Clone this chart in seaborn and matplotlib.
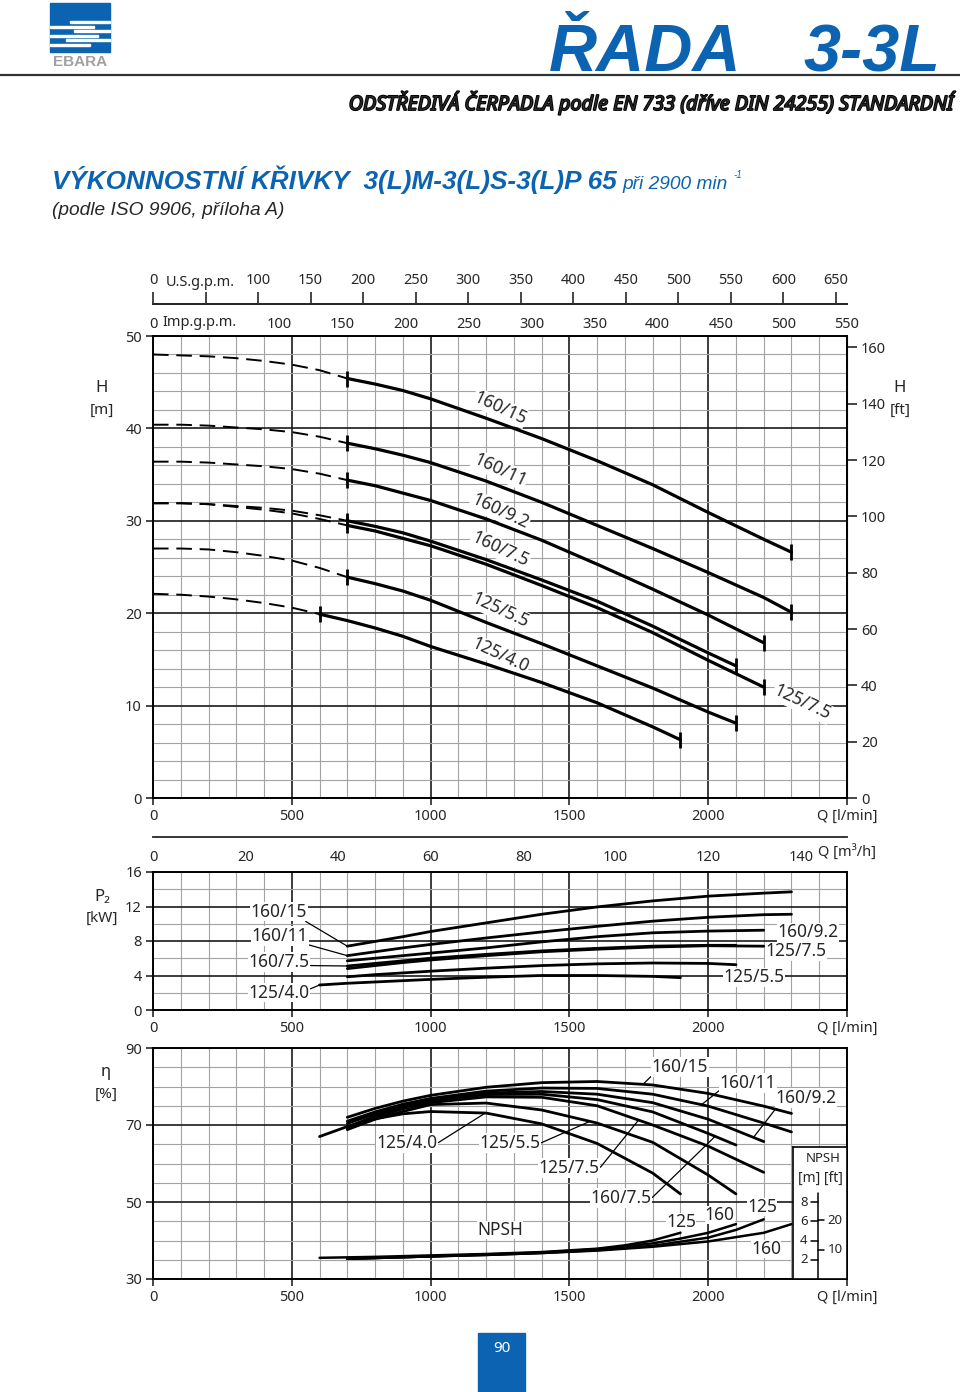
import numpy as np
import seaborn as sns
import matplotlib.pyplot as plt
import matplotlib.patheffects as pe
from matplotlib.patches import Rectangle

W, H = 960, 1392
BLUE = "#0b63b1"

# ---- values read from the sheet (Q in l/min) ----
models = ["160/15", "160/11", "160/9.2", "160/7.5", "125/7.5", "125/5.5", "125/4.0"]

# head [m], dashed part left of the allowed range
q_dash = [0, 100, 200, 300, 400, 500, 600, 700]
h_dash = {
    "160/15": [48.0, 47.9, 47.8, 47.6, 47.3, 46.9, 46.3, 45.4],
    "160/11": [40.4, 40.4, 40.3, 40.1, 39.9, 39.6, 39.1, 38.4],
    "160/9.2": [36.4, 36.4, 36.3, 36.1, 35.9, 35.6, 35.1, 34.4],
    "160/7.5": [31.9, 31.9, 31.8, 31.6, 31.4, 31.1, 30.6, 30.0],
    "125/7.5": [31.9, 31.9, 31.8, 31.5, 31.2, 30.8, 30.2, 29.5],
    "125/5.5": [27.0, 27.0, 26.9, 26.6, 26.2, 25.7, 24.9, 23.9],
    "125/4.0": [22.1, 22.0, 21.8, 21.5, 21.1, 20.6, 19.9],
}

# allowed range: flow points shared by head, power and efficiency
q_run = {
    "160/15": [700, 800, 900, 1000, 1200, 1400, 1600, 1800, 2000, 2200, 2300],
    "160/11": [700, 800, 900, 1000, 1200, 1400, 1600, 1800, 2000, 2200, 2300],
    "160/9.2": [700, 800, 900, 1000, 1200, 1400, 1600, 1800, 2000, 2200],
    "160/7.5": [700, 800, 900, 1000, 1200, 1400, 1600, 1800, 2000, 2100],
    "125/7.5": [700, 800, 900, 1000, 1200, 1400, 1600, 1800, 2000, 2200],
    "125/5.5": [700, 800, 900, 1000, 1200, 1400, 1600, 1800, 2000, 2100],
    "125/4.0": [600, 700, 800, 900, 1000, 1200, 1400, 1600, 1800, 1900],
}
h_run = {
    "160/15": [45.4, 44.8, 44.1, 43.2, 41.1, 38.9, 36.5, 33.9, 30.9, 28.0, 26.6],
    "160/11": [38.4, 37.8, 37.1, 36.3, 34.3, 32.0, 29.5, 27.0, 24.4, 21.7, 20.1],
    "160/9.2": [34.4, 33.8, 33.0, 32.2, 30.2, 27.9, 25.3, 22.6, 19.8, 16.8],
    "160/7.5": [30.0, 29.4, 28.7, 27.8, 25.8, 23.6, 21.3, 18.6, 15.7, 14.3],
    "125/7.5": [29.5, 28.9, 28.1, 27.3, 25.3, 23.0, 20.6, 17.9, 14.9, 12.0],
    "125/5.5": [23.9, 23.2, 22.4, 21.4, 19.0, 16.7, 14.3, 11.9, 9.3, 8.1],
    "125/4.0": [19.9, 19.2, 18.4, 17.5, 16.4, 14.5, 12.5, 10.3, 7.7, 6.3],
}
p2_run = {
    "160/15": [7.4, 7.95, 8.5, 9.1, 10.1, 11.1, 11.95, 12.65, 13.2, 13.55, 13.7],
    "160/11": [6.3, 6.75, 7.2, 7.6, 8.35, 9.05, 9.7, 10.3, 10.75, 11.05, 11.1],
    "160/9.2": [5.7, 6.0, 6.3, 6.6, 7.2, 7.9, 8.5, 8.95, 9.15, 9.25],
    "160/7.5": [5.1, 5.4, 5.7, 6.0, 6.45, 6.85, 7.15, 7.4, 7.5, 7.5],
    "125/7.5": [4.8, 5.15, 5.5, 5.8, 6.3, 6.75, 7.05, 7.3, 7.45, 7.4],
    "125/5.5": [3.85, 4.1, 4.3, 4.5, 4.85, 5.15, 5.35, 5.45, 5.4, 5.25],
    "125/4.0": [2.9, 3.1, 3.25, 3.4, 3.55, 3.8, 4.0, 4.0, 3.9, 3.75],
}
eta_run = {
    "160/15": [72.0, 74.3, 76.2, 77.7, 79.8, 81.0, 81.3, 80.4, 78.2, 74.9, 73.0],
    "160/11": [71.0, 73.4, 75.4, 76.9, 78.8, 79.6, 79.5, 78.0, 74.9, 70.5, 68.2],
    "160/9.2": [70.4, 72.9, 75.0, 76.6, 78.3, 78.7, 78.0, 75.8, 71.5, 65.7],
    "160/7.5": [69.5, 72.3, 74.6, 76.3, 77.9, 78.0, 76.6, 73.4, 67.8, 64.8],
    "125/7.5": [69.0, 72.0, 74.2, 75.8, 77.3, 77.2, 75.0, 70.0, 64.5, 57.7],
    "125/5.5": [68.8, 71.5, 73.5, 75.3, 75.7, 73.9, 70.5, 65.5, 57.0, 52.1],
    "125/4.0": [67.0, 69.6, 71.6, 72.9, 73.5, 73.1, 70.3, 65.2, 57.5, 52.1],
}

# NPSH [m]
npsh_q = [
    [600, 800, 1000, 1200, 1400, 1600, 1700, 1800, 1900],
    [700, 1000, 1200, 1400, 1600, 1800, 1900, 2000, 2100],
    [700, 1000, 1200, 1400, 1600, 1800, 2000, 2100, 2200],
    [700, 1000, 1200, 1400, 1600, 1800, 2000, 2200, 2300],
]
npsh_m = [
    [2.2, 2.3, 2.45, 2.6, 2.8, 3.15, 3.5, 4.0, 4.8],
    [2.1, 2.35, 2.55, 2.75, 3.1, 3.7, 4.2, 4.8, 5.7],
    [2.1, 2.35, 2.5, 2.7, 3.0, 3.45, 4.3, 5.1, 6.2],
    [2.1, 2.35, 2.5, 2.7, 2.95, 3.35, 3.9, 4.8, 5.7],
]

q_ticks = [0, 500, 1000, 1500, 2000]
h_ticks = [0, 10, 20, 30, 40, 50]
ft_ticks = [0, 20, 40, 60, 80, 100, 120, 140, 160]
us_ticks = [0, 50, 100, 150, 200, 250, 300, 350, 400, 450, 500, 550, 600, 650]
imp_ticks = [0, 50, 100, 150, 200, 250, 300, 350, 400, 450, 500, 550]
m3h_ticks = [0, 20, 40, 60, 80, 100, 120, 140]
p2_ticks = [0, 4, 8, 12, 16]
eta_ticks = [30, 50, 70, 90]
npsh_m_ticks = [2, 4, 6, 8]
npsh_ft_ticks = [10, 20]

US_GPM, IMP_GPM, M3H, M2FT = 3.785, 4.546, 16.667, 3.2808

sns.set_style("white")
NARROW = ["Noto Sans Condensed", "Liberation Sans Narrow", "Noto Sans", "DejaVu Sans"]
SANS = ["Liberation Sans", "DejaVu Sans"]
plt.rcParams["font.family"] = NARROW
plt.rcParams["font.stretch"] = "condensed"
plt.rcParams["font.size"] = 10.5


def rect(x0, y0, x1, y1):
    return [x0 / W, 1 - y1 / H, (x1 - x0) / W, (y1 - y0) / H]


def grid_axes(r, ymin, ymax, ystep, ymajor):
    ax = fig.add_axes(rect(*r))
    ax.set_xlim(0, 2500)
    ax.set_ylim(ymin, ymax)
    ax.set_xticks(q_ticks + [2500])
    ax.set_xticklabels([str(v) for v in q_ticks] + ["Q [l/min]"])
    ax.set_yticks(ymajor)
    ax.set_xticks(np.arange(0, 2501, 100), minor=True)
    ax.set_yticks(np.arange(ymin, ymax + 0.01, ystep), minor=True)
    ax.grid(which="minor", color="#a3a3a3", lw=0.8)
    ax.grid(which="major", color="#1a1a1a", lw=1.2)
    ax.set_axisbelow(True)
    for s in ax.spines.values():
        s.set_color("k")
        s.set_linewidth(1.4)
    ax.tick_params(which="minor", length=0)
    ax.tick_params(which="major", direction="out", length=5, width=1.2,
                   labelsize=10.5, pad=3, left=True, bottom=True)
    return ax


def scale_axis(y, ticks, factor, labels_top, skip):
    a = fig.add_axes(rect(153, y, 847, y + 0.5))
    a.set_xlim(0, 2500)
    a.set_yticks([])
    for s in a.spines.values():
        s.set_visible(False)
    a.spines["bottom"].set_visible(True)
    a.spines["bottom"].set_linewidth(1.3)
    a.set_xticks([v * factor for v in ticks])
    a.set_xticklabels(["" if v in skip else str(v) for v in ticks])
    if labels_top:
        a.tick_params(axis="x", bottom=False, labelbottom=False, top=True,
                      labeltop=True, direction="out", length=8, width=1.2, pad=3)
    else:
        a.tick_params(axis="x", direction="out", length=7, width=1.2, pad=3)
    a.patch.set_alpha(0)
    return a


fig = plt.figure(figsize=(9.6, 13.92), dpi=100)
bg = fig.add_axes([0, 0, 1, 1])
bg.set_xlim(0, W)
bg.set_ylim(H, 0)
bg.axis("off")


def fit(t, width):
    r = fig.canvas.get_renderer()
    w = t.get_window_extent(r).width
    t.set_fontsize(t.get_fontsize() * width / w)


# ---- header ----
bg.add_patch(Rectangle((50, 3), 60, 49, color=BLUE))
for yy, xa, xb in [(21, 70, 110), (25.5, 50, 94), (30, 74, 110), (34.5, 50, 98),
                   (39, 66, 110), (43.5, 50, 90)]:
    bg.add_patch(Rectangle((xa, yy), xb - xa, 2, color="white"))
bg.text(80, 62, "EBARA", ha="center", va="center", color="#a0a0a0",
        fontsize=11, fontweight="bold", family=SANS)
bg.plot([0, W], [75, 75], color="#333333", lw=1.6)
bg.text(645, 71, "ŘADA", ha="center", va="baseline", color=BLUE, fontsize=48,
        fontweight="bold", fontstyle="italic", family=SANS)
bg.text(872, 71, "3-3L", ha="center", va="baseline", color=BLUE, fontsize=48,
        fontweight="bold", fontstyle="italic", family=SANS)
t = bg.text(953, 110, "ODSTŘEDIVÁ ČERPADLA podle EN 733 (dříve DIN 24255) STANDARDNÍ",
            ha="right", va="baseline", fontsize=20, fontweight="bold",
            fontstyle="italic", family=NARROW,
            path_effects=[pe.withStroke(linewidth=1.3, foreground="black")])
fit(t, 604)
t = bg.text(52, 189, "VÝKONNOSTNÍ KŘIVKY  3(L)M-3(L)S-3(L)P 65", ha="left",
            va="baseline", color=BLUE, fontsize=20, fontweight="bold",
            fontstyle="italic", family=SANS)
fit(t, 563)
t = bg.text(622, 189, "při 2900 min", ha="left", va="baseline", color=BLUE,
            fontsize=14, fontstyle="italic", family=SANS)
fit(t, 106)
bg.text(733, 178, "-1", ha="left", va="baseline", color=BLUE, fontsize=7,
        fontstyle="italic", family=SANS)
t = bg.text(52, 215, "(podle ISO 9906, příloha A)", ha="left", va="baseline",
            fontsize=14, fontstyle="italic", family=SANS)
fit(t, 233)

# ---- head chart ----
axh = grid_axes((153, 336, 847, 798), 0, 50, 2, h_ticks)
for m in models:
    hd = h_dash[m]
    sns.lineplot(x=q_dash[:len(hd)], y=hd, ax=axh, color="k", lw=1.4,
                 linestyle=(0, (8, 4)), estimator=None, sort=False, zorder=4)
    sns.lineplot(x=q_run[m], y=h_run[m], ax=axh, color="k", lw=2.3,
                 estimator=None, sort=False, zorder=4)
    axh.plot([q_run[m][0], q_run[m][-1]], [h_run[m][0], h_run[m][-1]], ls="none",
             marker="|", ms=12, mew=2, color="k", zorder=5)
axh.set_xlabel("")
axh.set_ylabel("")
sec = axh.secondary_yaxis("right", functions=(lambda v: v * M2FT, lambda v: v / M2FT))
sec.set_yticks(ft_ticks)
sec.tick_params(length=7, width=1.2, labelsize=10.5, pad=3)

head_lbl = [("160/15", 1250, 42.2), ("160/11", 1250, 35.5), ("160/9.2", 1250, 31.0),
            ("160/7.5", 1250, 26.9), ("125/5.5", 1250, 20.3), ("125/4.0", 1250, 15.4),
            ("125/7.5", 2338, 10.3)]
for txt, q, h in head_lbl:
    axh.text(q, h, txt, rotation=-25, ha="center", va="center", fontsize=12.5,
             bbox=dict(fc="white", ec="none", pad=0.6), zorder=3)

scale_axis(303, us_ticks, US_GPM, True, [50])
scale_axis(303, imp_ticks, IMP_GPM, False, [50])
bg.text(200, 282, "U.S.g.p.m.", ha="center", va="center", fontsize=10.5)
bg.text(200, 322, "Imp.g.p.m.", ha="center", va="center", fontsize=10.5)

bg.text(102, 388, "H", ha="center", va="center", fontsize=12)
bg.text(102, 410, "[m]", ha="center", va="center", fontsize=11)
bg.text(900, 388, "H", ha="center", va="center", fontsize=12)
bg.text(900, 410, "[ft]", ha="center", va="center", fontsize=11)

# ---- power chart ----
scale_axis(836, m3h_ticks, M3H, False, [])
bg.text(847, 853, "Q [m³/h]", ha="center", va="center", fontsize=10.5)

axp = grid_axes((153, 872, 847, 1010), 0, 16, 2, p2_ticks)
for m in models:
    sns.lineplot(x=q_run[m], y=p2_run[m], ax=axp, color="k", lw=2.0,
                 estimator=None, sort=False, zorder=4)
axp.set_xlabel("")
axp.set_ylabel("")
p2_lbl = [("160/15", 454, 11.4, (0.95, 0.0)),
          ("160/11", 457, 8.6, (0.95, 0.05)),
          ("160/7.5", 454, 5.57, (1.0, 0.3)),
          ("125/4.0", 454, 2.0, (1.0, 0.7))]
for txt, q, p, rp in p2_lbl:
    axp.annotate(txt, xy=(q_run[txt][0], p2_run[txt][0]), xytext=(q, p), ha="center",
                 va="center", fontsize=12.5, bbox=dict(fc="white", ec="none", pad=0.5),
                 arrowprops=dict(arrowstyle="-", lw=0.9, color="k", relpos=rp,
                                 shrinkA=0, shrinkB=0), zorder=3)
for txt, q, p in [("160/9.2", 2360, 9.0), ("125/7.5", 2317, 6.8), ("125/5.5", 2165, 3.8)]:
    axp.text(q, p, txt, ha="center", va="center", fontsize=12.5,
             bbox=dict(fc="white", ec="none", pad=0.5), zorder=3)
bg.text(102, 897, "P₂", ha="center", va="center", fontsize=12)
bg.text(102, 918, "[kW]", ha="center", va="center", fontsize=11)

# ---- efficiency + NPSH chart ----
axe = grid_axes((153, 1048, 847, 1279), 30, 90, 5, eta_ticks)
for m in models:
    sns.lineplot(x=q_run[m], y=eta_run[m], ax=axe, color="k", lw=2.0,
                 estimator=None, sort=False, zorder=4)
axe.set_xlabel("")
axe.set_ylabel("")
axn = axe.twinx()
axn.set_ylim(0, 24)
axn.axis("off")
for qq, nn in zip(npsh_q, npsh_m):
    sns.lineplot(x=qq, y=nn, ax=axn, color="k", lw=1.8, estimator=None, sort=False)

eta_lbl = [("160/15", 1898, 85.1, 1765, (0.0, 0.0)),
           ("160/11", 2143, 80.9, 1976, (0.0, 0.1)),
           ("160/9.2", 2352, 77.0, 2163, (0.05, 0.1)),
           ("125/4.0", 915, 65.3, 1197, (1.0, 0.5)),
           ("125/5.5", 1286, 65.3, 1574, (1.0, 0.5)),
           ("125/7.5", 1499, 58.8, 1749, (1.0, 0.5)),
           ("160/7.5", 1686, 51.0, 2025, (1.0, 0.5))]
for txt, q, e, qt, rp in eta_lbl:
    et = np.interp(qt, q_run[txt], eta_run[txt])
    axe.annotate(txt, xy=(qt, et), xytext=(q, e), ha="center", va="center",
                 fontsize=12.5, bbox=dict(fc="white", ec="none", pad=0.5),
                 arrowprops=dict(arrowstyle="-", lw=0.9, color="k", relpos=rp,
                                 shrinkA=0, shrinkB=0), zorder=3)
for txt, q, e in [("NPSH", 1250, 42.7), ("125", 1902, 44.8), ("160", 2042, 46.6),
                  ("125", 2194, 48.7), ("160", 2208, 37.8)]:
    axe.text(q, e, txt, ha="center", va="center", fontsize=12.5,
             bbox=dict(fc="white", ec="none", pad=0.3), zorder=3)
bg.text(106, 1072, "η", ha="center", va="center", fontsize=12)
bg.text(106, 1094, "[%]", ha="center", va="center", fontsize=11)

# NPSH scale box
ai = fig.add_axes(rect(793, 1147, 847, 1279))
ai.set_xlim(0, 1)
ai.set_ylim(0, 132 / 9.625)
ai.set_xticks([])
ai.set_yticks([])
for s in ai.spines.values():
    s.set_linewidth(1.2)
    s.set_color("k")
ai.plot([0.46, 0.46], [0, 8.94], color="k", lw=1.1)
for v in npsh_m_ticks:
    ai.plot([0.34, 0.46], [v, v], color="k", lw=1.1)
    ai.text(0.2, v, str(v), ha="center", va="center", fontsize=9.5)
for v in npsh_ft_ticks:
    ai.plot([0.46, 0.58], [v / M2FT, v / M2FT], color="k", lw=1.1)
    ai.text(0.78, v / M2FT, str(v), ha="center", va="center", fontsize=9.5)
ai.text(0.55, 12.57, "NPSH", ha="center", va="center", fontsize=9.5)
ai.text(0.5, 10.5, "[m] [ft]", ha="center", va="center", fontsize=10)

# page number
bg.add_patch(Rectangle((478, 1333), 47, 59, color=BLUE))
bg.text(502, 1348, "90", ha="center", va="center", color="white", fontsize=11,
        fontweight="bold")

fig.savefig("out.png", dpi=100)
